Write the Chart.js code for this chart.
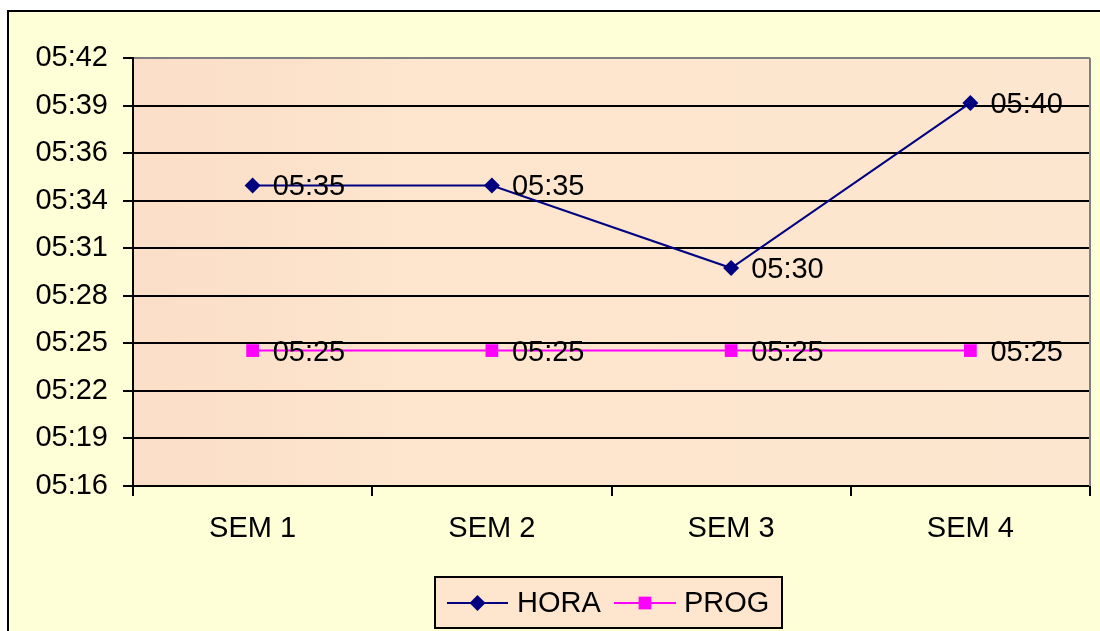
<!DOCTYPE html>
<html>
<head>
<meta charset="utf-8">
<script src="https://cdn.jsdelivr.net/npm/chart.js@4/dist/chart.umd.min.js"></script>
<style>
  html, body { margin: 0; padding: 0; background: #ffffff; }
  #wrap { width: 1100px; height: 631px; }
</style>
</head>
<body>
<div id="wrap"><canvas id="c" width="1100" height="631"></canvas></div>
<script>
// Weekly times (hh:mm)
const categories = ['SEM 1', 'SEM 2', 'SEM 3', 'SEM 4'];
const horaTimes = ['05:35', '05:35', '05:30', '05:40'];
const progTimes = ['05:25', '05:25', '05:25', '05:25'];

// Value axis runs on fractions of a day, major unit 0.002
const yTickDays = [0.220, 0.222, 0.224, 0.226, 0.228, 0.230, 0.232, 0.234, 0.236, 0.238];
const yTickLabels = ['05:16', '05:19', '05:22', '05:25', '05:28', '05:31', '05:34', '05:36', '05:39', '05:42'];

const toDay = t => {
  const [h, m] = t.split(':').map(Number);
  return (h * 60 + m) / 1440;
};

const FONT = '"Liberation Sans", Arial, sans-serif';
const FONT_SIZE = 29;
Chart.defaults.font.family = FONT;
Chart.defaults.color = '#000';

// Page frame, chart background and plot-area gradient
const backdrop = {
  id: 'backdrop',
  beforeDraw(chart) {
    const { ctx, chartArea: a } = chart;
    ctx.save();
    ctx.fillStyle = '#ffffff';
    ctx.fillRect(0, 0, chart.width, chart.height);
    ctx.fillStyle = '#FFFFD7';
    ctx.fillRect(8, 10, chart.width, chart.height);
    ctx.strokeStyle = '#000';
    ctx.lineWidth = 2;
    ctx.strokeRect(8, 11, chart.width + 20, chart.height + 20);
    const g = ctx.createLinearGradient(a.left, 0, a.right, 0);
    g.addColorStop(0, '#FBDEC7');
    g.addColorStop(0.3, '#FDE5CE');
    g.addColorStop(1, '#FDE6CF');
    ctx.fillStyle = g;
    ctx.fillRect(a.left, a.top, a.right - a.left, a.bottom - a.top);
    ctx.restore();
  },
  beforeDatasetsDraw(chart) {
    const { ctx, chartArea: a } = chart;
    ctx.save();
    ctx.strokeStyle = '#808080';
    ctx.lineWidth = 2;
    ctx.beginPath();
    ctx.moveTo(a.right, a.top);
    ctx.lineTo(a.right, a.bottom);
    ctx.stroke();
    ctx.restore();
  }
};

// Value labels beside each point
const valueLabels = {
  id: 'valueLabels',
  afterDatasetsDraw(chart) {
    const { ctx } = chart;
    ctx.save();
    ctx.font = FONT_SIZE + 'px ' + FONT;
    ctx.fillStyle = '#000';
    ctx.textAlign = 'left';
    ctx.textBaseline = 'middle';
    chart.data.datasets.forEach((ds, di) => {
      const meta = chart.getDatasetMeta(di);
      meta.data.forEach((pt, i) => {
        ctx.fillText(ds.timeLabels[i], pt.x + 20, pt.y + 2);
      });
    });
    ctx.restore();
  }
};

// Boxed legend below the axis
const boxedLegend = {
  id: 'boxedLegend',
  afterDraw(chart) {
    const { ctx } = chart;
    const bx = 435, by = 577, bw = 347, bh = 51;
    ctx.save();
    ctx.fillStyle = '#FDE5CE';
    ctx.fillRect(bx, by, bw, bh);
    ctx.strokeStyle = '#000';
    ctx.lineWidth = 2;
    ctx.strokeRect(bx, by, bw, bh);
    const cy = by + 26;
    const items = [
      { x0: 447, x1: 508, tx: 517 },
      { x0: 614, x1: 676, tx: 684 }
    ];
    chart.data.datasets.forEach((ds, i) => {
      const it = items[i];
      ctx.strokeStyle = ds.borderColor;
      ctx.lineWidth = 2;
      ctx.beginPath();
      ctx.moveTo(it.x0, cy);
      ctx.lineTo(it.x1, cy);
      ctx.stroke();
      ctx.fillStyle = ds.backgroundColor;
      Chart.helpers.drawPoint(ctx, {
        pointStyle: ds.pointStyle,
        radius: ds.pointRadius,
        rotation: 0,
        borderWidth: 0
      }, (it.x0 + it.x1) / 2, cy);
      ctx.fillStyle = '#000';
      ctx.font = FONT_SIZE + 'px ' + FONT;
      ctx.textAlign = 'left';
      ctx.textBaseline = 'middle';
      ctx.fillText(ds.label, it.tx, cy + 1);
    });
    ctx.restore();
  }
};

new Chart(document.getElementById('c'), {
  type: 'line',
  data: {
    labels: categories,
    datasets: [
      {
        label: 'HORA',
        data: horaTimes.map(toDay),
        timeLabels: horaTimes,
        borderColor: '#000080',
        backgroundColor: '#000080',
        borderWidth: 2,
        pointStyle: 'rectRot',
        pointRadius: 8,
        pointBorderWidth: 0,
        pointHoverRadius: 8,
        tension: 0
      },
      {
        label: 'PROG',
        data: progTimes.map(toDay),
        timeLabels: progTimes,
        borderColor: '#FF00FF',
        backgroundColor: '#FF00FF',
        borderWidth: 2,
        pointStyle: 'rect',
        pointRadius: 9,
        pointBorderWidth: 0,
        pointHoverRadius: 9,
        tension: 0
      }
    ]
  },
  options: {
    responsive: false,
    animation: false,
    devicePixelRatio: 1,
    layout: { padding: { top: 58, right: 10, left: 0, bottom: 0 } },
    plugins: {
      legend: { display: false },
      tooltip: { enabled: false }
    },
    scales: {
      x: {
        type: 'category',
        offset: true,
        grid: { offset: true, drawOnChartArea: false, drawTicks: true, tickLength: 10, color: '#000', lineWidth: 2 },
        border: { color: '#000', width: 2 },
        ticks: { color: '#000', font: { size: FONT_SIZE }, padding: 16, maxRotation: 0, autoSkip: false },
        afterFit: s => { s.height = 145; }
      },
      y: {
        type: 'linear',
        min: yTickDays[0],
        max: yTickDays[yTickDays.length - 1],
        afterBuildTicks: s => { s.ticks = yTickDays.map(v => ({ value: v })); },
        afterFit: s => { s.width = 133; },
        ticks: {
          color: '#000',
          font: { size: FONT_SIZE },
          padding: 15,
          autoSkip: false,
          callback: (v, i) => yTickLabels[i]
        },
        grid: {
          color: c => (c.tick && c.tick.value === yTickDays[yTickDays.length - 1]) ? '#808080' : '#000',
          tickColor: '#000',
          lineWidth: 2,
          tickLength: 10
        },
        border: { color: '#000', width: 2 }
      }
    }
  },
  plugins: [backdrop, valueLabels, boxedLegend]
});
</script>
</body>
</html>
